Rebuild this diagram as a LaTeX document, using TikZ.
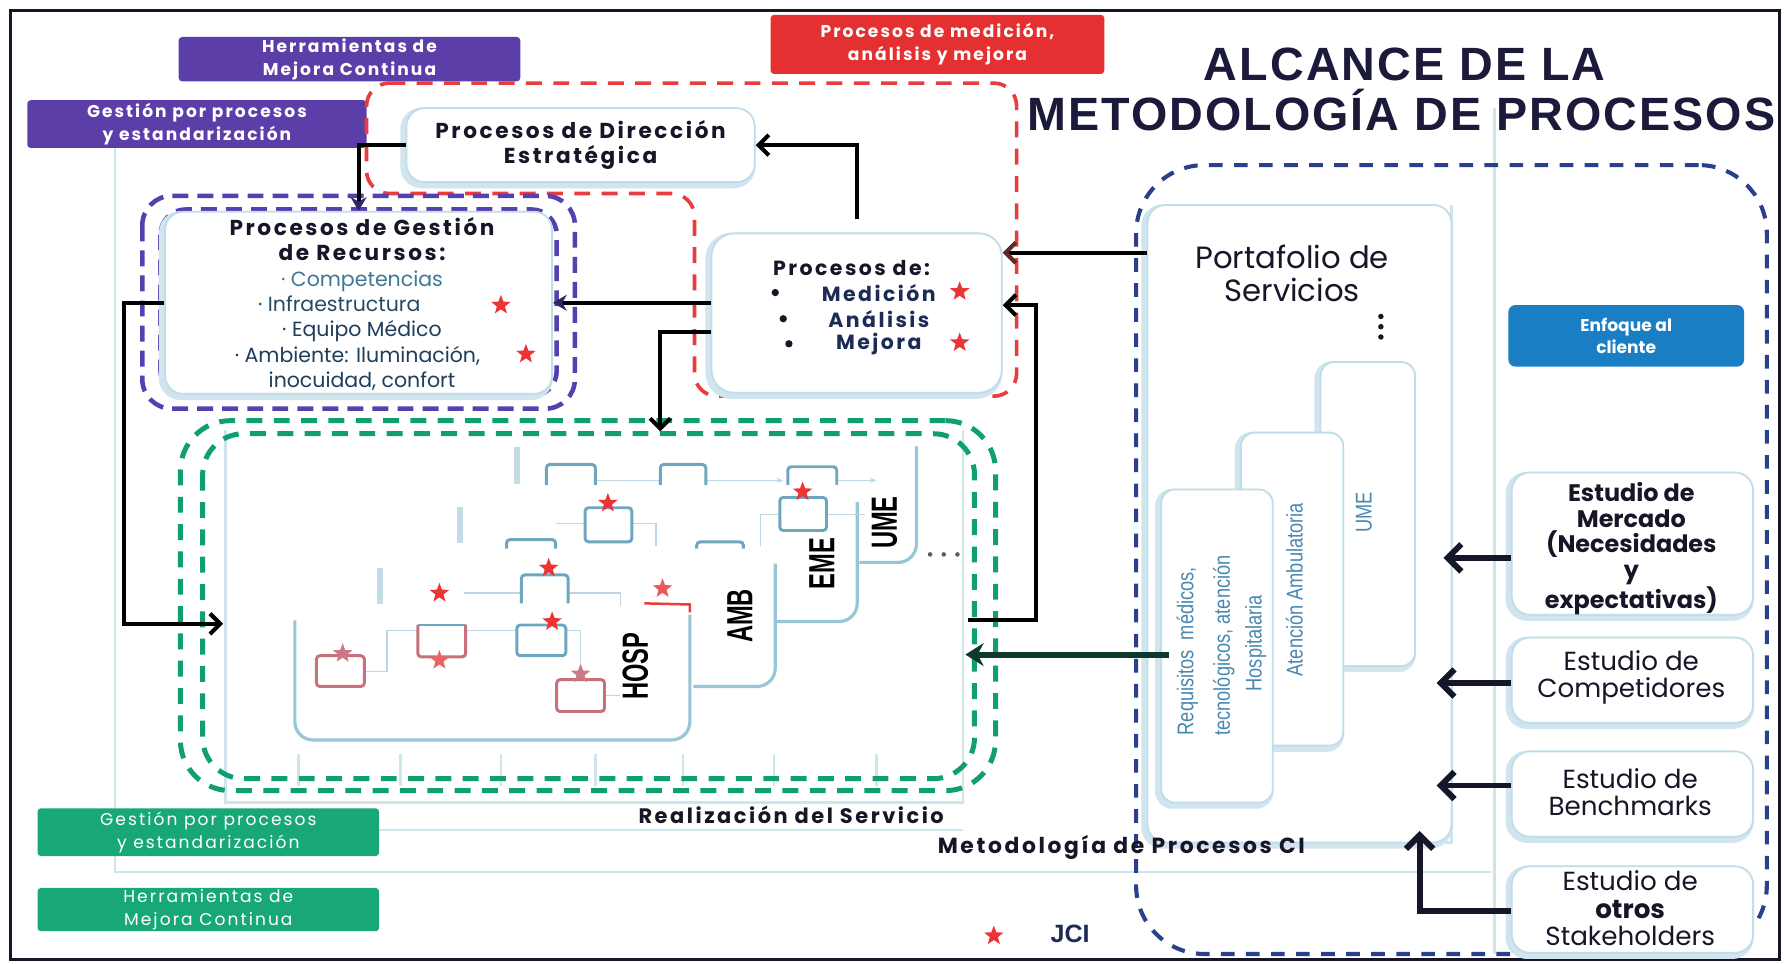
\documentclass[tikz,border=0pt]{standalone}
\usepackage{fontspec}
\setmainfont{Poppins}
\newfontfamily\arialf{Liberation Sans}
\newfontfamily\arialt{Liberation Sans}[LetterSpace=4.4]
\newfontfamily\geow{Poppins}[LetterSpace=12]
\usetikzlibrary{arrows.meta,shapes.geometric,calc}

\definecolor{ink}{RGB}{22,22,40}
\definecolor{titleblue}{RGB}{27,26,58}
\definecolor{violetbox}{RGB}{92,62,168}
\definecolor{violetdash}{RGB}{86,64,176}
\definecolor{violettip}{RGB}{52,36,100}
\definecolor{redbox}{RGB}{228,48,48}
\definecolor{reddash}{RGB}{232,60,62}
\definecolor{greendash}{RGB}{16,160,112}
\definecolor{greenbox}{RGB}{24,168,120}
\definecolor{navydash}{RGB}{42,64,140}
\definecolor{panelline}{RGB}{150,198,216}
\definecolor{faint}{RGB}{208,228,236}
\definecolor{stepblue}{RGB}{110,166,192}
\definecolor{steppink}{RGB}{200,112,124}
\definecolor{pinkstar}{RGB}{204,120,136}
\definecolor{starred}{RGB}{236,52,52}
\definecolor{clientblue}{RGB}{26,126,196}
\definecolor{svcblue}{RGB}{72,136,176}
\definecolor{teal1}{RGB}{60,120,150}
\definecolor{teal2}{RGB}{36,74,102}
\definecolor{teal3}{RGB}{30,62,92}
\definecolor{navytext}{RGB}{28,44,85}
\definecolor{darkgreen}{RGB}{12,56,46}
\definecolor{brownred}{RGB}{96,40,40}

\tikzset{
  tagbox/.style={rectangle, rounded corners=1.5pt, text=white, align=center,
    inner sep=0pt, font=\geow\fontsize{7.5}{10}\selectfont\bfseries},
  panel/.style={rectangle, rounded corners=8pt, draw=panelline!60, line width=0.8pt,
    fill=white, inner sep=0pt,
    preaction={draw=panelline!45, line width=3pt,
      transform canvas={xshift=-1.2pt,yshift=-1.2pt}}},
  faintline/.style={draw=faint, line width=1.2pt},
  conn/.style={draw=black, line width=1.8pt},
  barb/.style={-{Straight Barb[length=4.5pt,width=9pt]}},
  bigconn/.style={draw=ink, line width=2.6pt},
  bigbarb/.style={-{Straight Barb[length=6pt,width=12pt]}},
  violetarrow/.style={-{Stealth[length=6pt,width=7pt,color=violettip]}},
  jci/.style={star, star points=5, star point ratio=2.4, fill=starred,
    inner sep=0pt, minimum size=9pt},
  pinkjci/.style={jci, fill=pinkstar},
  stepline/.style={draw=stepblue, line width=1.3pt, rounded corners=1.5pt},
  pinkline/.style={draw=steppink, line width=1.3pt, rounded corners=1.5pt},
  linkline/.style={draw=stepblue!45, line width=0.7pt},
  edgeline/.style={draw=panelline, line width=1.4pt, rounded corners=8pt},
  vlabel/.style={rotate=90, font=\arialf\fontsize{16}{16}\selectfont\bfseries},
  svclabel/.style={rotate=90, text=svcblue, font=\arialf\fontsize{10}{10}\selectfont},
  bodytext/.style={align=center, text=ink, inner sep=0pt},
}

\begin{document}
\begin{tikzpicture}[x=0.5pt,y=-0.5pt]
\useasboundingbox (0,0) rectangle (1568,846);
\fill[white] (0,0) rectangle (1568,846);

% ---- light background structure of the methodology layout
\draw[faintline] (101,95) -- (101,766) -- (1310,766);
\draw[faintline] (1313,95) -- (1313,838);
\draw[faintline] (333,729) -- (846,729);
\draw[faintline] (198,378) -- (198,705) -- (846,705) -- (846,378);
\draw[faintline] (1275,180) -- (1275,740) -- (1008,740);
\foreach \xx in {262,352,440,523,600,680,770}
  \draw[faintline] (\xx,662) -- (\xx,690);

% ---- outer frame
\draw[line width=1.2pt, draw=ink] (9,9) rectangle (1563,843);

% ---- coloured tags
\node[tagbox, fill=violetbox, minimum width=150pt, minimum height=19.5pt]
  (tagherr) at (307,52) {Herramientas de\\Mejora Continua};
\node[tagbox, fill=violetbox, minimum width=149pt, minimum height=21pt]
  (taggest) at (173,109) {Gestión por procesos\\y estandarización};
\node[tagbox, fill=redbox, minimum width=146.5pt, minimum height=26pt]
  (tagmed) at (823.5,39) {Procesos de medición,\\análisis y mejora};
\node[tagbox, fill=greenbox, minimum width=150pt, minimum height=21pt,
  font=\geow\fontsize{7.5}{10}\selectfont]
  (gtaggest) at (183,731) {Gestión por procesos\\y estandarización};
\node[tagbox, fill=greenbox, minimum width=150pt, minimum height=19pt,
  font=\geow\fontsize{7.5}{10}\selectfont]
  (gtagherr) at (183,799) {Herramientas de\\Mejora Continua};

% ---- title
\node[text=titleblue, font=\arialt\fontsize{20.5}{24}\selectfont\bfseries, inner sep=0pt]
  (title1) at (1234,57) {ALCANCE DE LA};
\node[text=titleblue, font=\arialt\fontsize{20.5}{24}\selectfont\bfseries, inner sep=0pt]
  (title2) at (1231,97) {METODOLOGÍA DE PROCESOS};

% ---- blue dashed scope (portfolio and market studies)
\node[draw=navydash, line width=1.8pt, dash pattern=on 6pt off 5pt,
  rounded corners=30pt, minimum width=277pt, minimum height=346.5pt, inner sep=0pt]
  (cimeth) at (1275,491.5) {};

% ---- red dashed region: direction + measurement processes
\draw[draw=reddash, line width=1.6pt, dash pattern=on 7pt off 5pt, rounded corners=10pt]
  (322,73) -- (893,73) -- (893,348) -- (610,348) -- (610,170) -- (322,170) -- cycle;

% ---- violet double dashed frame around resource management
\draw[draw=violetdash, line width=2pt, dash pattern=on 7pt off 4pt, rounded corners=13pt]
  (125,172) rectangle (505,359);
\draw[draw=violetdash, line width=2pt, dash pattern=on 7pt off 4pt, rounded corners=11pt]
  (141,184) rectangle (489,348);

% ---- panels
\node[panel, minimum width=153pt, minimum height=32.5pt] (dir) at (510,127.5) {};
\node[panel, minimum width=170pt, minimum height=80pt] (gest) at (315,266) {};
\node[panel, minimum width=127.5pt, minimum height=70pt, rounded corners=10pt] (med) at (752.5,275) {};

\node[bodytext, font=\geow\fontsize{9.5}{11}\selectfont\bfseries] (dirtext) at (dir)
  {Procesos de Dirección\\Estratégica};

\node[bodytext, font=\fontsize{9}{11.15}\selectfont] (gesttext) at (318,267)
  {{\geow\fontsize{9.5}{11.15}\selectfont\bfseries Procesos de Gestión}\\
   {\geow\fontsize{9.5}{11.15}\selectfont\bfseries de Recursos:}\\
   \textcolor{teal1}{· Competencias}\\
   \textcolor{teal2}{· Infraestructura\hspace{20pt}}\\
   \textcolor{teal3}{· Equipo Médico}\\
   \textcolor{teal3}{· Ambiente: Iluminación,\hspace{4pt}}\\
   \textcolor{teal3}{inocuidad, confort}};
\node[jci] (st1) at (440,268) {};
\node[jci] (st2) at (462,311) {};

\node[bodytext, font=\geow\fontsize{9}{11}\selectfont\bfseries] (medtitle) at (748,235) {Procesos de:};
\foreach \bx/\by in {681/257, 688/280, 693/302}
  \fill[ink] (\bx,\by) circle (1.6pt);
\node[bodytext, text=navytext, font=\geow\fontsize{9}{11}\selectfont\bfseries] (mmed) at (772,257) {Medición};
\node[bodytext, text=navytext, font=\geow\fontsize{9}{11}\selectfont\bfseries] (mana) at (772,280) {Análisis};
\node[bodytext, text=navytext, font=\geow\fontsize{9}{11}\selectfont\bfseries] (mmej) at (772,302) {Mejora};
\node[jci] (st3) at (843,256) {};
\node[jci] (st4) at (843,301) {};

% ---- green double dashed frame: service delivery
\node[draw=greendash, line width=2.2pt, dash pattern=on 7pt off 5pt, rounded corners=22pt,
  minimum width=358pt, minimum height=162.5pt, inner sep=0pt] (realiz) at (516.5,532) {};
\draw[draw=greendash, line width=2.2pt, dash pattern=on 7pt off 5pt, rounded corners=18pt]
  (178,381) rectangle (856,684);

% ---- stacked service panels
\fill[white] (700,392) rectangle (805,494);
\draw[edgeline] (755,494) -- (805,494) -- (805,392);
\fill[white] (640,441) rectangle (753,546);
\draw[edgeline] (682,546) -- (753,546) -- (753,441);
\fill[white] (560,495) rectangle (681,603);
\draw[edgeline] (609,603) -- (681,603) -- (681,495);
\fill[white] (259,540) rectangle (606,650);
\draw[edgeline] (259,545) -- (259,650) -- (606,650) -- (606,540);

\node[vlabel] (ume) at (777,459) {\scalebox{0.65}[1]{UME}};
\node[vlabel] (eme) at (722,495) {\scalebox{0.65}[1]{EME}};
\node[vlabel] (amb) at (650,541) {\scalebox{0.65}[1]{AMB}};
\node[vlabel] (hosp) at (558,585) {\scalebox{0.65}[1]{HOSP}};
\foreach \dx in {817,829,841} \fill[ink!70] (\dx,487) circle (1pt);

% process map links
\draw[linkline] (523,422) -- (580,422);
\draw[linkline, -{Stealth[length=3pt]}] (620,422) -- (688,422);
\draw[linkline, -{Stealth[length=3pt]}] (735,422) -- (770,422);
\draw[linkline] (488,460) -- (514,460);
\draw[linkline] (555,460) -- (576,460) -- (576,480);
\draw[linkline] (668,480) -- (668,452) -- (685,452);
\draw[linkline] (726,452) -- (760,452);
\draw[linkline] (408,521) -- (458,521);
\draw[linkline] (499,521) -- (545,521) -- (545,532);
\draw[linkline] (320,590) -- (340,590) -- (340,554) -- (367,554);
\draw[linkline] (409,554) -- (454,554);
\draw[linkline] (497,554) -- (510,554) -- (510,597);
\draw[linkline] (531,611) -- (545,611);
\foreach \vx/\vy in {454/393, 404/445, 334/499}
  \draw[draw=stepblue!40, line width=2.5pt] (\vx,\vy) -- (\vx,\vy+32);

% process map steps
\draw[stepline] (480,426) |- (523,408) -- (523,426);
\draw[stepline] (580,426) |- (620,408) -- (620,426);
\draw[stepline] (692,426) |- (735,410) -- (735,426);
\draw[stepline] (445,482) |- (488,474) -- (488,482);
\draw[stepline] (612,482) |- (653,476) -- (653,482);
\draw[stepline] (458,530) |- (499,505) -- (499,530);
\draw[stepline] (514,446) rectangle (555,476);
\draw[stepline] (685,437) rectangle (726,466);
\draw[stepline] (454,549) rectangle (497,576);
\draw[pinkline] (278,576) rectangle (320,603);
\draw[pinkline] (489,597) rectangle (531,625);
\draw[stepline] (367,549) -- (409,549);
\draw[pinkline] (367,549) |- (409,577) -- (409,549);
\draw[draw=reddash, line width=1.1pt] (566,530) -- (606,531) -- (606,538);

\node[jci] (p1) at (534,442) {};
\node[jci] (p2) at (705,432) {};
\node[jci] (p3) at (482,499) {};
\node[jci] (p4) at (386,521) {};
\node[jci] (p5) at (485,546) {};
\node[jci, fill=reddash!80] (p6) at (386,580) {};
\node[pinkjci] (p7) at (301,574) {};
\node[pinkjci] (p8) at (510,592) {};
\node[jci, fill=reddash!85] (p9) at (582,517) {};

% ---- portfolio of services
\node[panel, minimum width=133.5pt, minimum height=280pt] (port) at (1141.5,460) {};
\node[bodytext, font=\fontsize{13.5}{14.5}\selectfont] (porttext) at (1135,240)
  {Portafolio de\\Servicios};
\foreach \dy in {278,287,296} \fill[ink] (1213,\dy) circle (1.2pt);

\node[panel, rounded corners=6pt, minimum width=41.5pt, minimum height=133.5pt] (pume) at (1201.5,451.5) {};
\node[panel, rounded corners=6pt, minimum width=45pt, minimum height=137.5pt] (pamb) at (1135,517.5) {};
\node[panel, rounded corners=6pt, minimum width=49pt, minimum height=137.5pt] (preq) at (1069,567.5) {};
\node[svclabel] (lume) at (1198,450) {\scalebox{0.8}[1]{UME}};
\node[svclabel] (lamb) at (1137,518) {\scalebox{0.8}[1]{Atención Ambulatoria}};
\node[svclabel] (lhosp) at (1103,565) {\scalebox{0.8}[1]{Hospitalaria}};
\node[svclabel] (ltec) at (1075,567) {\scalebox{0.8}[1]{tecnológicos, atención}};
\node[svclabel] (lreq) at (1043,572) {\scalebox{0.8}[1]{Requisitos\ \ médicos,}};

% ---- market studies column
\node[rectangle, rounded corners=3pt, fill=clientblue, minimum width=103.5pt,
  minimum height=27pt, inner sep=0pt, text=white, align=center,
  font=\fontsize{7.5}{9.5}\selectfont\bfseries] (enfoque) at (1428.5,295) {Enfoque al\\cliente};
\node[panel, minimum width=106pt, minimum height=62.5pt] (merc) at (1434,477.5) {};
\node[panel, minimum width=106pt, minimum height=37.5pt] (comp) at (1434,597.5) {};
\node[panel, minimum width=106pt, minimum height=37.5pt] (bench) at (1434,697.5) {};
\node[panel, minimum width=106pt, minimum height=38pt] (stake) at (1434,799) {};

\node[bodytext, font=\fontsize{10.5}{11.25}\selectfont\bfseries] (merctext) at (1433,482)
  {Estudio de\\Mercado\\(Necesidades\\y\\expectativas)};
\node[bodytext, font=\fontsize{11.5}{12}\selectfont] (comptext) at (1433,595)
  {Estudio de\\Competidores};
\node[bodytext, font=\fontsize{11.5}{12}\selectfont] (benchtext) at (1432,696)
  {Estudio de\\Benchmarks};
\node[bodytext, font=\fontsize{11.5}{12}\selectfont] (staketext) at (1432,798)
  {Estudio de\\\textbf{otros}\\Stakeholders};

% ---- section captions and legend
\node[bodytext, font=\geow\fontsize{9.2}{10}\selectfont\bfseries] (lblreal) at (695,716)
  {Realización del Servicio};
\node[bodytext, font=\geow\fontsize{9.6}{10}\selectfont\bfseries] (lblmet) at (985,744)
  {Metodología de Procesos CI};
\node[jci] (legstar) at (873,822) {};
\node[bodytext, text=navytext, font=\arialf\fontsize{11}{12}\selectfont\bfseries] (legjci) at (940,820) {JCI};

% ---- connectors
\coordinate (gtop) at (580,379);
\coordinate (lin) at (196,548);
\coordinate (rout) at (850,545);
\coordinate (gright) at (848,575);

\draw[conn, violetarrow] (dir.west) -| (gest.north);
\draw[conn, barb] ([yshift=6pt]med.north) |- (dir.east);
\draw[conn, violetarrow] (med.west |- gest.east) -- (gest.east);
\draw[conn, barb] ([yshift=-8.5pt]med.west) -| (gtop);
\draw[conn, -{Straight Barb[length=4.5pt,width=9pt,color=brownred]}] (port.west |- 0,222) -- (med.east |- 0,222);
\draw[conn, barb] (rout) -| (910,268) -- (med.east |- 0,268);
\draw[conn, barb] (gest.west) -- ++(-35,0) |- (lin);
\draw[draw=darkgreen, line width=2.6pt, -{Stealth[length=8pt,width=10pt]}] (preq.west |- 0,575) ++(8,0) -- (gright);

\draw[bigconn, bigbarb] (merc.west |- 0,490) -- (1268,490);
\draw[bigconn, bigbarb] (comp.west |- 0,600) -- (1262,600);
\draw[bigconn, bigbarb] (bench.west |- 0,690) -- (1262,690);
\draw[bigconn, bigbarb] (stake.west |- 0,800) -| (1247,730);

\end{tikzpicture}
\end{document}
